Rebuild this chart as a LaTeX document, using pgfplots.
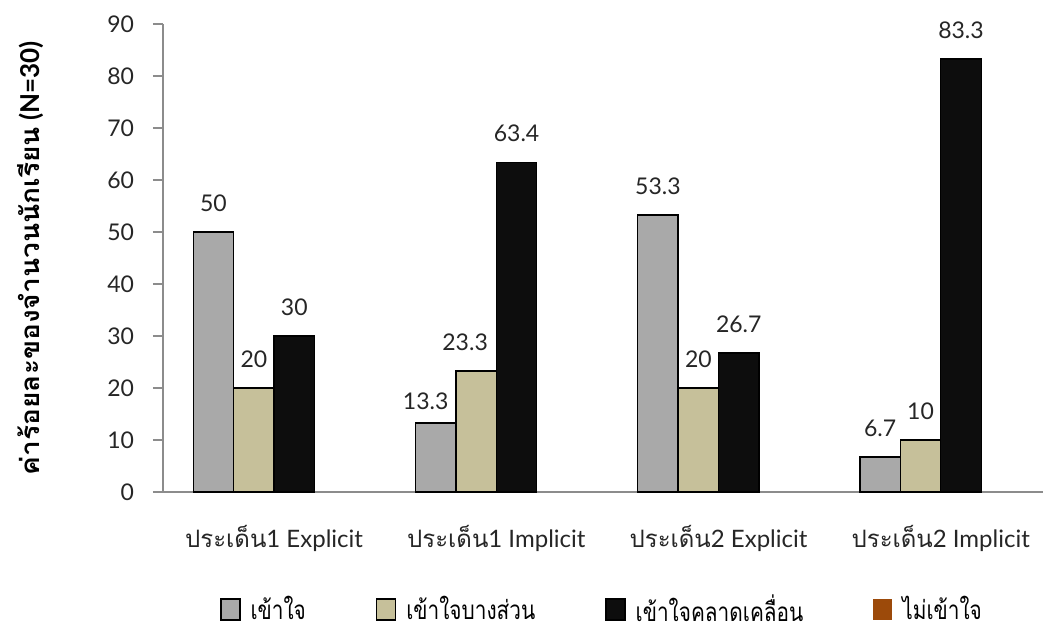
\documentclass[border=0pt]{standalone}
\usepackage{fontspec}
\setmainfont{Lato}
\newfontfamily\thai[Script=Thai]{Loma}
\newfontfamily\thaileg[Script=Thai, FakeStretch=0.8]{Loma}
\newfontfamily\thailab[Script=Thai, FakeStretch=1.08]{Loma}
\usepackage{pgfplots}
\usepackage{pgfplotstable}
\pgfplotsset{compat=1.18}
\definecolor{cGray}{HTML}{A9A9A9}
\definecolor{cKhaki}{HTML}{C6C09A}
\definecolor{cBlack}{HTML}{0D0D0D}
\definecolor{cBrown}{HTML}{9C4A0A}
\definecolor{axgray}{HTML}{8C8C8C}
\pgfplotstableread{
x y dx dy
0 50 0 0
1 13.3 -5 -3.5
2 53.3 0 0
3 6.7 0 0
}\tabA
\pgfplotstableread{
x y dx dy
0 20 0 0
1 23.3 -5.5 0
2 20 0 0
3 10 0 0
}\tabB
\pgfplotstableread{
x y dx dy
0 30 0 0
1 63.4 0 0
2 26.7 0 0
3 83.3 0 0
}\tabC
\pgfplotstableread{
x y dx dy
0 0 0 0
1 0 0 0
2 0 0 0
3 0 0 0
}\tabD
\begin{document}
\begin{tikzpicture}
\begin{axis}[
  at={(0,0)}, anchor=south west,
  scale only axis, width=440pt, height=234pt,
  ybar=0pt, bar width=0.182,
  xmin=-0.5, xmax=3.46, ymin=0, ymax=90,
  ytick={0,10,...,90},
  xtick={0,1,2,3},
  xticklabels={{\thai ประเด็น}1 Explicit, {\thai ประเด็น}1 Implicit, {\thai ประเด็น}2 Explicit, {\thai ประเด็น}2 Implicit},
  extra x ticks={-0.5,0.5,1.5,2.5},
  extra x tick labels={},
  extra x tick style={major tick length=5pt, tick style={draw=axgray, line width=0.7pt}},
  x tick style={draw=none},
  y tick style={draw=axgray, line width=0.7pt},
  major tick length=5pt,
  tick align=outside,
  axis x line*=bottom, axis y line*=left,
  axis line style={draw=axgray, line width=0.8pt},
  /pgf/number format/assume math mode=true,
  tick label style={font=\fontsize{11.5}{13}\selectfont, text=black!85},
  yticklabel style={xshift=-6pt},
  xticklabel style={yshift=-8pt, font=\fontsize{12}{14}\selectfont},
  ylabel={{\thailab\bfseries ค่าร้อยละของจำนวนนักเรียน} \bfseries(N=30)},
  ylabel style={at={(axis description cs:-0.151,0.5)}, anchor=center, font=\fontsize{13}{15}\selectfont},
  nodes near coords,
  visualization depends on={\thisrow{dx} \as \dx},
  visualization depends on={\thisrow{dy} \as \dy},
  every node near coord/.append style={font=\fontsize{11.5}{13}\selectfont, text=black!85, yshift=6.5pt+\dy pt, xshift=\dx pt},
  legend columns=4,
  legend style={draw=none, at={(axis description cs:0.5,-0.251)}, anchor=center,
    font=\thaileg\fontsize{13}{15}\selectfont,
    /tikz/every odd column/.append style={column sep=3pt},
    /tikz/every even column/.append style={column sep=33pt}},
  legend image code/.code={\draw[#1] (0pt,-5.25pt) rectangle (9.5pt,5.25pt);},
  clip=false,
]
\addplot[fill=cGray, draw=black, line width=0.7pt] table[x=x,y=y] {\tabA};
\addplot[fill=cKhaki, draw=black, line width=0.7pt] table[x=x,y=y] {\tabB};
\addplot[fill=cBlack, draw=black, line width=0.7pt] table[x=x,y=y] {\tabC};
\addplot[fill=none, draw=none, nodes near coords=\empty,
  legend image code/.code={\fill[cBrown] (0pt,-5.25pt) rectangle (9.5pt,5.25pt);}] table[x=x,y=y] {\tabD};
\legend{เข้าใจ, เข้าใจบางส่วน, เข้าใจคลาดเคลื่อน, ไม่เข้าใจ}
\end{axis}
\pgfresetboundingbox
\path (-81.5pt,-68.5pt) rectangle (440pt,246pt);
\end{tikzpicture}
\end{document}
